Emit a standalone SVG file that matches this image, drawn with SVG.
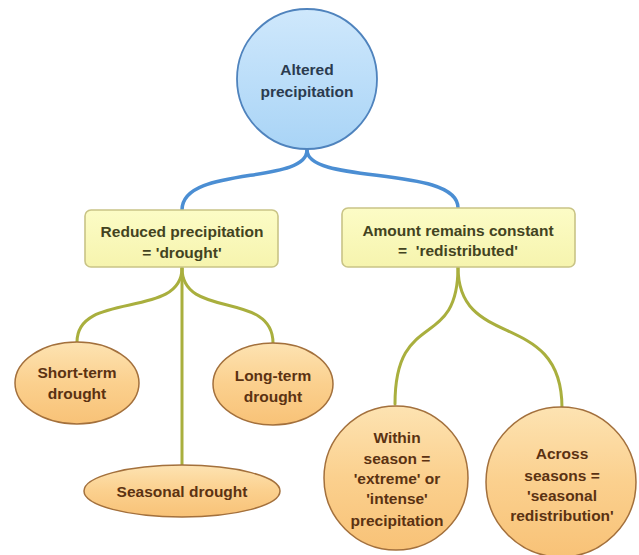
<svg xmlns="http://www.w3.org/2000/svg" width="639" height="555" viewBox="0 0 639 555">
<defs>
<linearGradient id="gBlue" x1="0" y1="0" x2="0" y2="1">
<stop offset="0" stop-color="#cfe8fc"/><stop offset="1" stop-color="#a9d4f6"/>
</linearGradient>
<linearGradient id="gOrange" x1="0" y1="0" x2="0" y2="1">
<stop offset="0" stop-color="#fde3b2"/><stop offset="0.5" stop-color="#fbd08e"/><stop offset="1" stop-color="#f8c277"/>
</linearGradient>
<linearGradient id="gYellow" x1="0" y1="0" x2="0" y2="1">
<stop offset="0" stop-color="#fcfcc6"/><stop offset="1" stop-color="#f6f4ae"/>
</linearGradient>
</defs>
<style>
text{font-family:"Liberation Sans",Arial,sans-serif;font-weight:bold;font-size:15.5px;text-anchor:middle}
.blue{fill:none;stroke:#4b8ed3;stroke-width:3.5;stroke-linecap:round}
.green{fill:none;stroke:#a9af3e;stroke-width:3;stroke-linecap:round}
.root circle{fill:url(#gBlue);stroke:#4f83bd;stroke-width:1.8}
.root text{fill:#2b3b4f}
.box rect{fill:url(#gYellow);stroke:#c9c486;stroke-width:1.6}
.box text{fill:#43431f}
.leaf ellipse,.leaf circle{fill:url(#gOrange);stroke:#a3703c;stroke-width:1.5}
.leaf text{fill:#5b3212}
</style>
<rect width="639" height="555" fill="#ffffff"/>
<g id="connectors">
<path class="blue" d="M307,150 C307,185 182,165 182,210"/>
<path class="blue" d="M307,150 C307,185 458,165 458,208"/>
<path class="green" d="M182,268 C182,320 77,290 77,342"/>
<path class="green" d="M182,268 L182,466"/>
<path class="green" d="M182,268 C182,320 273,290 273,343"/>
<path class="green" d="M458,267 C458,352 395,308 395,404"/>
<path class="green" d="M458,267 C458,352 562,308 562,408"/>
</g>
<g id="altered" class="root">
<circle cx="307" cy="79" r="70"/>
<text x="307" y="75">Altered</text>
<text x="307" y="97">precipitation</text>
</g>
<g id="reduced" class="box">
<rect x="85" y="210" width="193" height="57" rx="6"/>
<text x="182" y="237">Reduced precipitation</text>
<text x="182" y="258">= 'drought'</text>
</g>
<g id="constant" class="box">
<rect x="342" y="208" width="233" height="59" rx="6"/>
<text x="458" y="236">Amount remains constant</text>
<text x="458" y="256" xml:space="preserve">=  'redistributed'</text>
</g>
<g id="shortterm" class="leaf">
<ellipse cx="77" cy="383" rx="62" ry="41"/>
<text x="77" y="378">Short-term</text>
<text x="77" y="399">drought</text>
</g>
<g id="longterm" class="leaf">
<ellipse cx="273" cy="384" rx="60" ry="41"/>
<text x="273" y="381">Long-term</text>
<text x="273" y="402">drought</text>
</g>
<g id="seasonal" class="leaf">
<ellipse cx="182" cy="491" rx="98" ry="26"/>
<text x="182" y="497">Seasonal drought</text>
</g>
<g id="within" class="leaf">
<circle cx="396" cy="478" r="72"/>
<text x="397" y="443">Within</text>
<text x="397" y="464">season =</text>
<text x="397" y="484">'extreme' or</text>
<text x="397" y="504">'intense'</text>
<text x="397" y="526">precipitation</text>
</g>
<g id="across" class="leaf">
<circle cx="561" cy="482" r="75"/>
<text x="562" y="459">Across</text>
<text x="562" y="481">seasons =</text>
<text x="562" y="501">'seasonal</text>
<text x="562" y="521">redistribution'</text>
</g>
</svg>
